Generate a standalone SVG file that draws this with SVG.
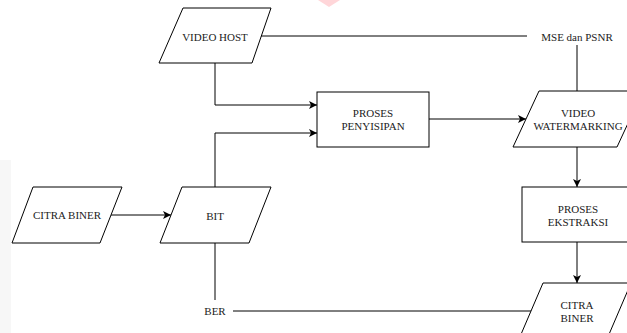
<svg xmlns="http://www.w3.org/2000/svg" width="627" height="333" viewBox="0 0 627 333">
<style>
.s{fill:#fff;stroke:#000;stroke-width:1}
text{font-family:'Liberation Serif','Times New Roman',Times,serif;font-size:11px;fill:#222;text-anchor:middle;dominant-baseline:central}
.c{fill:none;stroke:#000;stroke-width:1}
</style>
<defs>
<marker id="a" viewBox="0 0 8 8" refX="8" refY="4" markerWidth="8" markerHeight="8" markerUnits="userSpaceOnUse" orient="auto">
<path d="M0,0 L8,4 L0,8 L2,4 Z" fill="#000"/>
</marker>
</defs>
<rect x="0" y="0" width="627" height="333" fill="#fff"/>
<rect x="0" y="160" width="11" height="173" fill="#f7f7f7"/>
<path d="M318,0 L340,0 L329,7 Z" fill="#ffd6d9"/>
<g id="connectors">
<path class="c" d="M261,36 H527"/>
<path class="c" d="M577,45 V91"/>
<path class="c" d="M215,63 V105 H317" marker-end="url(#a)"/>
<path class="c" d="M215,187 V133 H317" marker-end="url(#a)"/>
<path class="c" d="M429,119 H526" marker-end="url(#a)"/>
<path class="c" d="M577,147 V187" marker-end="url(#a)"/>
<path class="c" d="M577,242 V283" marker-end="url(#a)"/>
<path class="c" d="M111,215 H171" marker-end="url(#a)"/>
<path class="c" d="M215,243 V300"/>
<path class="c" d="M233,311 H532"/>
</g>
<g id="video-host">
<polygon class="s" points="183,8 271,8 252,63 159,63"/>
<text x="215" y="37" font-family="Liberation Serif, serif">VIDEO HOST</text>
</g>
<g id="mse-psnr">
<text x="577" y="37" font-family="Liberation Serif, serif">MSE dan PSNR</text>
</g>
<g id="proses-penyisipan">
<rect class="s" x="317" y="92" width="112" height="55"/>
<text x="373" y="113" font-family="Liberation Serif, serif">PROSES</text>
<text x="373" y="126" font-family="Liberation Serif, serif">PENYISIPAN</text>
</g>
<g id="video-watermarking">
<polygon class="s" points="539,91 643,91 617,147 513,147"/>
<text x="578" y="113" font-family="Liberation Serif, serif">VIDEO</text>
<text x="578" y="126" font-family="Liberation Serif, serif">WATERMARKING</text>
</g>
<g id="proses-ekstraksi">
<rect class="s" x="522" y="187" width="111" height="55"/>
<text x="578" y="209" font-family="Liberation Serif, serif">PROSES</text>
<text x="578" y="222" font-family="Liberation Serif, serif">EKSTRAKSI</text>
</g>
<g id="citra-biner-out">
<polygon class="s" points="543,283 631,283 607,339 519,339"/>
<text x="577" y="305" font-family="Liberation Serif, serif">CITRA</text>
<text x="577" y="318" font-family="Liberation Serif, serif">BINER</text>
</g>
<g id="citra-biner-in">
<polygon class="s" points="33,187 122,187 100,243 12,243"/>
<text x="67" y="215" font-family="Liberation Serif, serif">CITRA BINER</text>
</g>
<g id="bit">
<polygon class="s" points="182,187 271,187 249,243 160,243"/>
<text x="215" y="216" font-family="Liberation Serif, serif">BIT</text>
</g>
<g id="ber">
<text x="215" y="311" font-family="Liberation Serif, serif">BER</text>
</g>
</svg>
